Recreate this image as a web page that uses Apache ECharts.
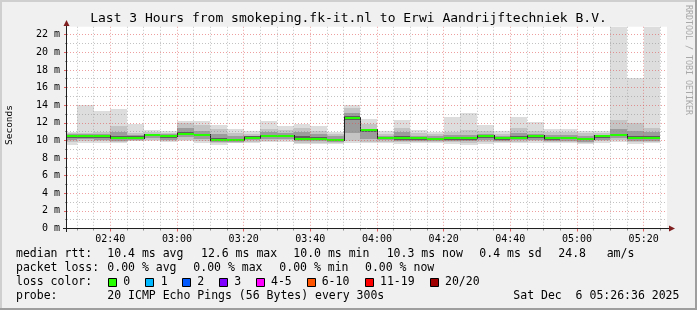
<!DOCTYPE html>
<html><head><meta charset="utf-8">
<script src="https://cdn.jsdelivr.net/npm/echarts@6/dist/echarts.min.js"></script>
<style>html,body{margin:0;padding:0;background:#f0f0f0}#c{width:697px;height:310px}</style>
</head><body><div id="c"></div><script>
// ---- data ----
const binStarts = ['02:25','02:30','02:35','02:40','02:45','02:50','02:55','03:00','03:05','03:10','03:15','03:20',
  '03:25','03:30','03:35','03:40','03:45','03:50','03:55','04:00','04:05','04:10','04:15','04:20',
  '04:25','04:30','04:35','04:40','04:45','04:50','04:55','05:00','05:05','05:10','05:15','05:20'];
const rttMax = [11.0,14.0,13.35,13.6,11.9,11.15,11.05,12.15,12.25,11.8,11.3,11.05,12.2,11.65,11.85,11.65,11.0,14.05,12.4,11.1,12.35,11.2,11.0,12.7,13.1,11.8,11.05,12.7,12.05,11.3,11.3,11.05,11.05,22.9,17.05,22.9];
const rttP90 = [10.85,10.85,10.9,11.65,10.85,10.9,10.85,12.0,11.8,11.3,10.8,10.75,11.3,11.2,11.4,11.1,10.7,13.7,11.9,10.75,11.4,10.8,10.7,11.0,11.2,11.05,10.75,11.4,11.1,10.9,10.95,10.8,10.8,12.3,12.0,11.4];
const rttP75 = [10.7,10.7,10.7,10.9,10.6,10.75,10.7,11.4,11.1,10.7,10.5,10.55,10.9,10.85,11.0,10.7,10.45,13.1,11.35,10.55,10.9,10.55,10.45,10.6,10.6,10.75,10.5,10.8,10.75,10.6,10.6,10.55,10.65,11.3,11.1,10.9];
const rttP60 = [10.55,10.55,10.55,10.45,10.45,10.65,10.55,10.9,10.75,10.25,10.15,10.45,10.65,10.65,10.5,10.35,10.2,12.75,11.25,10.4,10.45,10.35,10.3,10.35,10.35,10.55,10.35,10.45,10.55,10.35,10.4,10.3,10.55,10.75,10.45,10.45];
const rttMed = [10.45,10.45,10.45,10.3,10.32,10.58,10.45,10.76,10.6,10.08,10.0,10.32,10.52,10.52,10.19,10.19,10.06,12.6,11.13,10.3,10.23,10.23,10.2,10.23,10.23,10.45,10.23,10.3,10.45,10.23,10.3,10.15,10.45,10.6,10.3,10.3];
const rttP40 = [10.3,10.3,10.3,10.15,10.2,10.45,10.3,10.6,10.45,9.95,9.9,10.2,10.4,10.4,10.05,10.05,9.95,12.3,10.9,10.2,10.1,10.1,10.05,10.1,10.1,10.3,10.1,10.15,10.3,10.1,10.15,10.0,10.3,10.45,10.15,10.15];
const rttP25 = [10.1,10.15,10.1,9.95,10.05,10.25,10.1,10.35,10.2,9.8,9.8,10.0,10.2,10.2,9.9,9.9,9.8,10.8,10.2,10.0,9.95,9.95,9.9,9.95,9.95,10.1,9.95,10.0,10.1,9.95,9.95,9.85,10.1,10.25,9.95,9.95];
const rttP10 = [9.85,9.9,9.9,9.85,9.95,10.0,9.9,10.05,9.95,9.65,9.7,9.8,9.95,10.0,9.75,9.75,9.7,9.9,9.85,9.85,9.8,9.8,9.8,9.8,9.75,9.85,9.8,9.85,9.9,9.8,9.8,9.7,9.9,10.0,9.8,9.8];
const rttMin = [9.5,9.7,9.7,9.7,9.9,9.9,9.8,9.9,9.7,9.5,9.7,9.7,9.8,9.85,9.6,9.6,9.55,9.7,9.7,9.75,9.6,9.7,9.7,9.55,9.5,9.6,9.7,9.7,9.75,9.7,9.65,9.55,9.75,9.8,9.6,9.65];
const xMajorTicks = ['02:40','03:00','03:20','03:40','04:00','04:20','04:40','05:00','05:20'];
const yMajorTicks = [0,2,4,6,8,10,12,14,16,18,20,22];
const yMinorTicks = [1,3,5,7,9,11,13,15,17,19,21];
const viewStart = '02:27', viewEnd = '05:27', stepMin = 5, yTop = 22.9;
const lossColors = [['0','#26ff00'],['1','#00b8ff'],['2','#0059ff'],['3','#7e00ff'],['4-5','#ff00ff'],['6-10','#ff5500'],['11-19','#ff0000'],['20/20','#a00000']];

// ---- helpers ----
const toMin = s => { const p = s.split(':').map(Number); return p[0]*60+p[1]; };
const fmt = v => { const h = Math.floor(v/60), m = v%60; return String(h).padStart(2,'0')+':'+String(m).padStart(2,'0'); };
const xMajor = xMajorTicks.map(toMin);
const xMinor = binStarts.map(toMin).concat([toMin(binStarts[binStarts.length-1])+stepMin])
  .filter(v => v > toMin(viewStart) && v < toMin(viewEnd) && xMajor.indexOf(v) < 0);

function band(lo, hi, color) {
  return {
    type: 'custom', clip: true, silent: true, z: 2,
    data: binStarts.map((s,i) => [toMin(s), toMin(s)+stepMin, lo[i], hi[i]]),
    encode: {x: [0,1], y: [2,3]},
    renderItem(params, api) {
      const a = api.coord([api.value(0), api.value(3)]);
      const b = api.coord([api.value(1), api.value(2)]);
      const x1 = Math.round(a[0]), x2 = Math.round(b[0]);
      const y1 = Math.round(a[1]), y2 = Math.round(b[1]);
      return {type: 'rect', shape: {x: x1, y: y1, width: x2-x1, height: Math.max(1, y2-y1)}, style: {fill: color}};
    }
  };
}
const medSeries = {
  type: 'custom', clip: true, silent: true, z: 3,
  data: binStarts.map((s,i) => [toMin(s), toMin(s)+stepMin, rttMed[i], i>0 ? rttMed[i-1] : rttMed[i]]),
  encode: {x: [0,1], y: [2,3]},
  renderItem(params, api) {
    const a = api.coord([api.value(0), api.value(2)]);
    const b = api.coord([api.value(1), api.value(2)]);
    const p = api.coord([api.value(0), api.value(3)]);
    const x1 = Math.round(a[0]), x2 = Math.round(b[0]);
    const y = Math.round(a[1]), yp = Math.round(p[1]);
    const ch = [];
    const jump = Math.abs(yp - y) > 1;
    if (jump) ch.push({type: 'rect', shape: {x: x1, y: Math.min(y, yp)-1, width: 1, height: Math.abs(yp-y)+2}, style: {fill: '#202020'}});
    ch.push({type: 'rect', shape: {x: x1 + (jump?1:0), y: y-1, width: x2-x1-(jump?1:0), height: 2}, style: {fill: lossColors[0][1]}});
    return {type: 'group', children: ch};
  }
};

const mono = '"DejaVu Sans Mono", monospace';
const majorGrid = 'rgba(222,79,79,0.55)';
const minorGrid = 'rgba(143,143,143,0.55)';
function txt(x, y, s, opt) {
  opt = opt || {};
  return {type: 'text', x: x, y: y, rotation: opt.rot || 0, z: 10,
    style: {text: s, font: (opt.size || 11.5) + 'px ' + mono, fill: opt.color || '#000',
      textAlign: opt.align || 'left', align: opt.align || 'left', textVerticalAlign: 'middle', verticalAlign: 'middle'}};
}
const g = [];
// frame shading
g.push({type:'rect', shape:{x:0,y:0,width:697,height:2}, style:{fill:'#cfcfcf'}, z:1});
g.push({type:'rect', shape:{x:0,y:0,width:2,height:310}, style:{fill:'#cfcfcf'}, z:1});
g.push({type:'rect', shape:{x:0,y:308,width:697,height:2}, style:{fill:'#9e9e9e'}, z:1});
g.push({type:'rect', shape:{x:695,y:0,width:2,height:310}, style:{fill:'#9e9e9e'}, z:1});
// axes lines + arrows
g.push({type:'line', shape:{x1:63,y1:228.5,x2:670,y2:228.5}, style:{stroke:'#1f1f1f',lineWidth:1}, z:10});
g.push({type:'line', shape:{x1:66.5,y1:232,x2:66.5,y2:25}, style:{stroke:'#1f1f1f',lineWidth:1}, z:10});
g.push({type:'polygon', shape:{points:[[669,225.5],[675,228.5],[669,231.5]]}, style:{fill:'#7f1f1f'}, z:10});
g.push({type:'polygon', shape:{points:[[63.5,26],[66.5,20],[69.5,26]]}, style:{fill:'#7f1f1f'}, z:10});
// titles
g.push(txt(348.5, 18.5, 'Last 3 Hours from smokeping.fk-it.nl to Erwi Aandrijftechniek B.V.', {size:13, align:'center'}));
g.push(txt(10, 125, 'Seconds', {size:9.5, align:'center', rot: Math.PI/2}));
g.push(txt(688.5, 5, 'RRDTOOL / TOBI OETIKER', {size:8.3, align:'left', rot: -Math.PI/2, color:'#a8a8a8'}));
// legend rows
const r1 = 254.5, r2 = 268.3, r3 = 282, r4 = 295.8;
[[16,'median rtt:'],[107.3,'10.4 ms avg'],[201,'12.6 ms max'],[293.3,'10.0 ms min'],[386.7,'10.3 ms now'],[479.3,'0.4 ms sd'],[558.3,'24.8'],[606.7,'am/s']]
  .forEach(t => g.push(txt(t[0], r1, t[1])));
[[16,'packet loss:'],[107.3,'0.00 % avg'],[193.3,'0.00 % max'],[279.3,'0.00 % min'],[365,'0.00 % now']]
  .forEach(t => g.push(txt(t[0], r2, t[1])));
g.push(txt(16, r3, 'loss color:'));
const boxX = [108.5,145.5,182.5,219.5,256.5,307.5,365.5,430.5];
const labX = [123.3,160.7,197.3,234.3,271,321.7,380,445];
lossColors.forEach((lc,i) => {
  g.push({type:'rect', shape:{x:boxX[i], y:278.5, width:8, height:8}, style:{fill:lc[1], stroke:'#000', lineWidth:1}, z:10});
  g.push(txt(labX[i], r3, lc[0]));
});
g.push(txt(16, r4, 'probe:'));
g.push(txt(107.3, r4, '20 ICMP Echo Pings (56 Bytes) every 300s'));
g.push(txt(513.3, r4, 'Sat Dec  6 05:26:36 2025'));

const xBase = {type:'value', min: toMin(viewStart), max: toMin(viewEnd), gridIndex:0, position:'bottom', z:5, axisLine:{show:false}};
const yBase = {type:'value', min: 0, max: yTop, gridIndex:0, position:'left', z:5, axisLine:{show:false}};
const option = {
  backgroundColor: '#f0f0f0',
  animation: false,
  grid: {left: 67, width: 600, top: 228.5 - yTop*8.809, bottom: 81.5, show: true, backgroundColor: '#ffffff', borderWidth: 0},
  xAxis: [
    Object.assign({}, xBase, {
      axisTick: {show:true, customValues: xMajor, length: 3, lineStyle: {color: 'rgba(222,79,79,0.9)'}},
      axisLabel: {show:true, customValues: xMajor, formatter: v => fmt(v), fontFamily: mono, fontSize: 10, color: '#000', margin: 6},
      splitLine: {show:true, lineStyle: {color: majorGrid, type: [1,2], width: 1}}
    }),
    Object.assign({}, xBase, {
      axisTick: {show:true, customValues: xMinor, length: 2, lineStyle: {color: '#8f8f8f'}},
      axisLabel: {show:false},
      splitLine: {show:true, lineStyle: {color: minorGrid, type: [1,2], width: 1}}
    })
  ],
  yAxis: [
    Object.assign({}, yBase, {
      axisTick: {show:true, customValues: yMajorTicks, length: 3, lineStyle: {color: 'rgba(222,79,79,0.9)'}},
      axisLabel: {show:true, customValues: yMajorTicks, formatter: v => v + ' m', fontFamily: mono, fontSize: 10, color: '#000', margin: 7},
      splitLine: {show:true, lineStyle: {color: majorGrid, type: [1,2], width: 1}}
    }),
    Object.assign({}, yBase, {
      axisTick: {show:true, customValues: yMinorTicks, length: 2, lineStyle: {color: '#8f8f8f'}},
      axisLabel: {show:false},
      splitLine: {show:true, lineStyle: {color: minorGrid, type: [1,2], width: 1}}
    })
  ],
  series: [
    band(rttMin, rttMax, '#dddddd'),
    band(rttP10, rttP90, '#c4c4c4'),
    band(rttP25, rttP75, '#9c9c9c'),
    band(rttP40, rttP60, '#5e5e5e'),
    medSeries
  ],
  graphic: {elements: g}
};
const chart = echarts.init(document.getElementById('c'), null, {renderer: 'canvas'});
chart.setOption(option);
</script></body></html>
